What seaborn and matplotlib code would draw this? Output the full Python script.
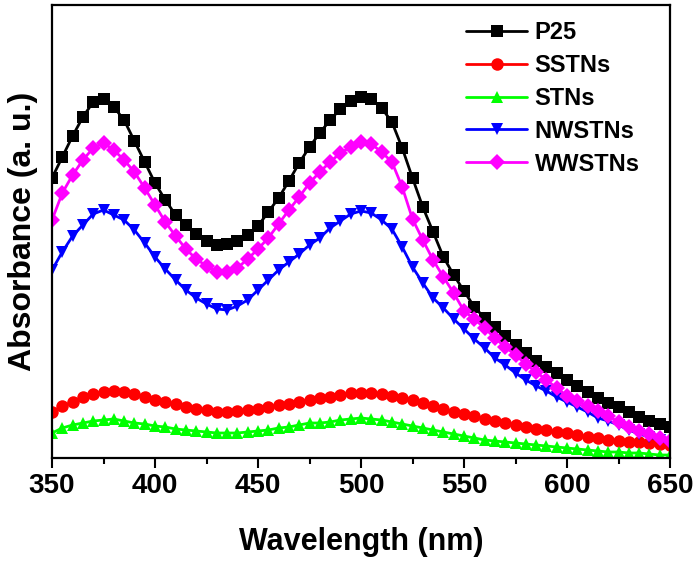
import numpy as np
import pandas as pd
import matplotlib
matplotlib.use("Agg")
import matplotlib.pyplot as plt
from matplotlib.lines import Line2D
import seaborn as sns

wavelength = list(range(350, 651, 5))

p25 = [280, 301, 322, 341, 356, 359, 351, 338, 317, 296, 275, 258, 243, 233, 224, 217, 213, 214, 217, 223,
       232, 246, 260, 277, 295, 311, 325, 338, 349, 357, 361, 359, 350, 336, 310, 280, 251, 226, 201, 183,
       167, 151, 140, 131, 122, 113, 105, 97, 91, 85, 78, 72, 66, 60, 55, 51, 46, 41, 37, 34, 31]
sstns = [46, 52, 56, 61, 64, 66, 67, 66, 64, 61, 58, 56, 54, 51, 49, 48, 46, 46, 47, 48,
         49, 51, 53, 54, 56, 58, 60, 61, 63, 65, 65, 65, 64, 62, 60, 58, 55, 52, 49, 46,
         44, 42, 39, 37, 35, 33, 31, 29, 28, 26, 25, 23, 21, 20, 18, 17, 16, 16, 15, 14, 13]
stns = [25, 30, 33, 35, 37, 38, 39, 37, 35, 34, 32, 31, 29, 28, 27, 26, 25, 25, 25, 26,
        27, 28, 30, 31, 33, 35, 35, 36, 38, 39, 40, 39, 38, 36, 34, 32, 30, 28, 26, 24,
        22, 20, 18, 17, 16, 15, 14, 13, 12, 11, 10, 9, 8, 7, 6, 6, 5, 5, 4, 3, 3]
nwstns = [188, 206, 222, 233, 244, 248, 243, 238, 228, 215, 201, 189, 178, 168, 160, 154, 149, 148, 152, 158,
          168, 178, 188, 196, 204, 213, 220, 230, 237, 244, 247, 245, 238, 229, 211, 191, 175, 160, 150, 139,
          129, 119, 110, 100, 93, 85, 78, 72, 67, 61, 56, 51, 46, 40, 37, 33, 28, 24, 21, 18, 14]
wwstns = [238, 265, 283, 298, 310, 315, 308, 298, 286, 270, 253, 236, 222, 209, 199, 192, 186, 186, 190, 199,
          209, 220, 234, 248, 261, 275, 286, 296, 305, 311, 316, 314, 306, 296, 271, 239, 218, 198, 181, 165,
          147, 139, 130, 120, 111, 103, 94, 86, 78, 70, 62, 57, 52, 47, 42, 36, 31, 27, 24, 20, 17]

names = ["P25", "SSTNs", "STNs", "NWSTNs", "WWSTNs"]
series = [p25, sstns, stns, nwstns, wwstns]
colors = ["#000000", "#ff0000", "#00ff00", "#0000ff", "#ff00ff"]
markers = ["s", "o", "^", "v", "D"]
msizes = [8, 9, 9, 9, 8]

xticks = [350, 400, 450, 500, 550, 600, 650]

df = pd.concat([pd.DataFrame({"Wavelength": wavelength, "Absorbance": s, "Sample": n})
                for n, s in zip(names, series)], ignore_index=True)

sns.set_style("white")
plt.rcParams["font.family"] = ["Liberation Sans", "DejaVu Sans"]
plt.rcParams["font.weight"] = "bold"
plt.rcParams["text.color"] = "black"
plt.rcParams["axes.labelcolor"] = "black"
plt.rcParams["xtick.color"] = "black"
plt.rcParams["ytick.color"] = "black"

fig = plt.figure(figsize=(7.0, 5.61), dpi=100)
ax = fig.add_axes([52/700, 1 - 458/561, (670-52)/700, (458-5)/561])

for n, c, m, ms in zip(names, colors, markers, msizes):
    sns.lineplot(data=df[df["Sample"] == n], x="Wavelength", y="Absorbance", ax=ax,
                 color=c, marker=m, markersize=ms, markeredgewidth=0, linewidth=2.0,
                 legend=False)

ax.set_xlim(350, 650)
ax.set_ylim(0, 453)
ax.set_xticks(xticks)
ax.set_xticks(list(range(375, 650, 50)), minor=True)
ax.set_xticklabels([str(t) for t in xticks], fontsize=20, fontweight="bold", color="black")
ax.set_yticks([])
ax.tick_params(axis="x", which="major", direction="out", length=7, width=1.5, pad=4, bottom=True)
ax.tick_params(axis="x", which="minor", direction="out", length=4, width=1.5, bottom=True)
for sp in ax.spines.values():
    sp.set_visible(True)
    sp.set_linewidth(1.6)
    sp.set_color("black")

ax.set_xlabel("Wavelength (nm)", fontsize=22, fontweight="bold", labelpad=20, color="black")
ax.set_ylabel("Absorbance (a. u.)", fontsize=23, fontweight="bold", labelpad=10, color="black")

handles = [Line2D([], [], color=c, marker=m, markersize=ms, markeredgewidth=0, linewidth=2)
           for c, m, ms in zip(colors, markers, msizes)]
leg = ax.legend(handles, names, loc="upper left", bbox_to_anchor=(466/700, 1 - 21/561),
                bbox_transform=fig.transFigure, frameon=False,
                prop={"weight": "bold", "size": 17}, handlelength=2.6, handletextpad=0.3,
                labelspacing=0.42, borderpad=0, borderaxespad=0, numpoints=1)
for t in leg.get_texts():
    t.set_color("black")

fig.savefig("out.png", dpi=100)
